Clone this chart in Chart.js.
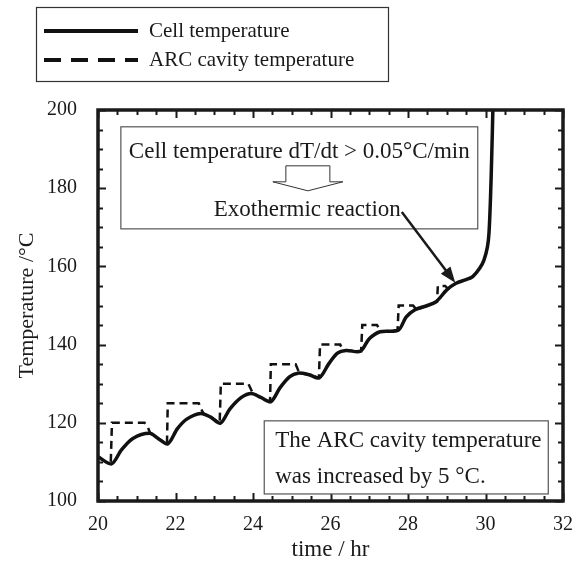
<!DOCTYPE html>
<html>
<head>
<meta charset="utf-8">
<script src="https://cdn.jsdelivr.net/npm/chart.js@4.4.1/dist/chart.umd.min.js"></script>
<style>
  body { margin: 0; background: #fff; }
  #wrap { width: 585px; height: 566px; }
</style>
</head>
<body>
<div id="wrap"><canvas id="arcChart" width="585" height="566"></canvas></div>
<script>
// cell temperature (solid)
const cellTime = [20.0, 20.35, 20.6, 20.9, 21.33, 21.55, 21.8, 22.05, 22.3, 22.65, 22.9, 23.16,
    23.4, 23.7, 23.96, 24.2, 24.46, 24.7, 24.95, 25.16, 25.45, 25.71, 25.95, 26.18, 26.4, 26.77,
    27.0, 27.28, 27.75, 27.95, 28.18, 28.5, 28.73, 29.0, 29.24, 29.5, 29.67, 29.85, 29.96, 30.05,
    30.09, 30.13, 30.16, 30.19, 30.21];
const cellTemp = [111.3, 109.5, 113.0, 116.0, 117.3, 116.0, 114.6, 118.5, 121.0, 122.4, 121.5, 119.9,
    123.5, 126.5, 127.5, 126.5, 125.4, 129.0, 131.8, 132.7, 132.3, 131.5, 135.0, 137.8, 138.5, 138.3,
    141.5, 143.3, 143.7, 147.0, 148.9, 150.0, 151.0, 154.0, 155.7, 156.6, 157.4, 159.5, 161.6, 165.0,
    168.5, 177.8, 188.0, 200.0, 212.0];

// ARC cavity temperature (dashed)
const arcTime = [20.33, 20.36, 21.2, 21.28, 21.35, 21.55, 21.78, 21.8, 22.6, 22.66, 22.72, 22.9, 23.14,
    23.17, 23.88, 23.95, 24.0, 24.2, 24.44, 24.46, 25.1, 25.15, 25.2, 25.45, 25.7, 25.73, 26.25, 26.3,
    26.4, 26.79, 26.82, 27.2, 27.26, 27.3, 27.73, 27.76, 28.13, 28.18, 28.22, 28.5, 28.75, 28.77, 28.96,
    29.02, 29.08];
const arcTemp = [110.0, 120.0, 120.0, 119.0, 117.3, 116.0, 114.6, 125.0, 125.0, 123.6, 122.4, 121.5, 119.9,
    130.0, 130.0, 128.5, 127.5, 126.5, 125.4, 135.0, 135.0, 133.8, 132.7, 132.3, 131.5, 140.0, 140.0, 139.0,
    138.5, 138.3, 145.0, 145.0, 144.0, 143.3, 143.7, 150.0, 150.0, 149.4, 148.9, 150.0, 151.0, 155.0, 155.0,
    154.4, 154.3];

const xTicks = [20, 22, 24, 26, 28, 30, 32];
const yTicks = [100, 120, 140, 160, 180, 200];

const seriesNames = ['Cell temperature', 'ARC cavity temperature'];

const serif = "'Liberation Serif', 'DejaVu Serif', serif";
const ink = '#1a1a1a';

function toPoints(xs, ys) {
    return xs.map((x, i) => ({ x: x, y: ys[i] }));
}

// frame, inward ticks, legend box and the two notes
const decorPlugin = {
    id: 'decor',
    afterDatasetsDraw(chart) {
        const ctx = chart.ctx;
        const area = chart.chartArea;
        const xs = chart.scales.x;
        const ys = chart.scales.y;
        ctx.save();

        // ticks
        ctx.strokeStyle = ink;
        ctx.lineWidth = 2;
        for (let v = xTicks[0]; v <= xTicks[xTicks.length - 1] + 1e-6; v += 0.5) {
            const px = Math.round(xs.getPixelForValue(v)) + 0.5;
            const len = (Math.abs(v % 2) < 1e-6) ? 8 : 5;
            ctx.beginPath();
            ctx.moveTo(px, area.bottom); ctx.lineTo(px, area.bottom - len);
            ctx.moveTo(px, area.top); ctx.lineTo(px, area.top + len);
            ctx.stroke();
        }
        for (let v = yTicks[0]; v <= yTicks[yTicks.length - 1] + 1e-6; v += 5) {
            const py = Math.round(ys.getPixelForValue(v)) + 0.5;
            const len = (Math.abs(v % 20) < 1e-6) ? 8 : 5;
            ctx.beginPath();
            ctx.moveTo(area.left, py); ctx.lineTo(area.left + len, py);
            ctx.moveTo(area.right, py); ctx.lineTo(area.right - len, py);
            ctx.stroke();
        }

        // frame
        ctx.lineWidth = 3.5;
        ctx.strokeRect(area.left, area.top, area.right - area.left, area.bottom - area.top);

        // note 1 : onset of exothermic reaction
        const b1 = { l: xs.getPixelForValue(20.59), r: xs.getPixelForValue(29.8),
                     t: ys.getPixelForValue(195.7), b: ys.getPixelForValue(169.6) };
        ctx.fillStyle = '#fff';
        ctx.fillRect(b1.l, b1.t, b1.r - b1.l, b1.b - b1.t);
        ctx.strokeStyle = '#555';
        ctx.lineWidth = 1.2;
        ctx.strokeRect(b1.l, b1.t, b1.r - b1.l, b1.b - b1.t);
        ctx.fillStyle = ink;
        ctx.font = '23px ' + serif;
        ctx.textAlign = 'center';
        ctx.textBaseline = 'middle';
        ctx.fillText('Cell temperature dT/dt > 0.05\u00B0C/min', (b1.l + b1.r) / 2, b1.t + 25);
        ctx.textAlign = 'right';
        ctx.fillText('Exothermic reaction', b1.l + 280, b1.t + 83);

        // hollow block arrow
        const cx = b1.l + 187;
        const ay = b1.t + 39;
        ctx.beginPath();
        ctx.moveTo(cx - 22, ay);
        ctx.lineTo(cx + 22, ay);
        ctx.lineTo(cx + 22, ay + 16);
        ctx.lineTo(cx + 35, ay + 16);
        ctx.lineTo(cx, ay + 25);
        ctx.lineTo(cx - 35, ay + 16);
        ctx.lineTo(cx - 22, ay + 16);
        ctx.closePath();
        ctx.strokeStyle = '#333';
        ctx.lineWidth = 1;
        ctx.stroke();

        // pointer arrow
        const sx = xs.getPixelForValue(27.84), sy = ys.getPixelForValue(173.9);
        const tx = xs.getPixelForValue(29.22), ty = ys.getPixelForValue(155.8);
        const ang = Math.atan2(ty - sy, tx - sx);
        ctx.strokeStyle = ink;
        ctx.fillStyle = ink;
        ctx.lineWidth = 2.5;
        ctx.beginPath();
        ctx.moveTo(sx, sy);
        ctx.lineTo(tx - 12 * Math.cos(ang), ty - 12 * Math.sin(ang));
        ctx.stroke();
        ctx.beginPath();
        ctx.moveTo(tx, ty);
        ctx.lineTo(tx - 16 * Math.cos(ang) + 6 * Math.sin(ang), ty - 16 * Math.sin(ang) - 6 * Math.cos(ang));
        ctx.lineTo(tx - 16 * Math.cos(ang) - 6 * Math.sin(ang), ty - 16 * Math.sin(ang) + 6 * Math.cos(ang));
        ctx.closePath();
        ctx.fill();

        // note 2 : step size
        const b2 = { l: xs.getPixelForValue(24.29), r: xs.getPixelForValue(31.62),
                     t: ys.getPixelForValue(120.5), b: ys.getPixelForValue(101.8) };
        ctx.fillStyle = '#fff';
        ctx.fillRect(b2.l, b2.t, b2.r - b2.l, b2.b - b2.t);
        ctx.strokeStyle = '#555';
        ctx.lineWidth = 1.2;
        ctx.strokeRect(b2.l, b2.t, b2.r - b2.l, b2.b - b2.t);
        ctx.fillStyle = ink;
        ctx.textAlign = 'left';
        ctx.fillText('The ARC cavity temperature', b2.l + 11, b2.t + 20);
        ctx.fillText('was increased by 5 \u00B0C.', b2.l + 11, b2.t + 56);

        // legend box (top left, outside the plot)
        ctx.strokeStyle = '#333';
        ctx.lineWidth = 1.2;
        ctx.strokeRect(36.5, 7.5, 352, 74);
        const ds = chart.data.datasets;
        [31, 60].forEach((ly, i) => {
            ctx.strokeStyle = ds[i].borderColor;
            ctx.lineWidth = 4;
            ctx.setLineDash(i === 1 ? [17, 10] : []);
            ctx.beginPath();
            ctx.moveTo(44, ly);
            ctx.lineTo(138, ly);
            ctx.stroke();
            ctx.setLineDash([]);
            ctx.fillStyle = ink;
            ctx.font = '21px ' + serif;
            ctx.textAlign = 'left';
            ctx.textBaseline = 'middle';
            ctx.fillText(seriesNames[i], 149, ly);
        });

        ctx.restore();
    }
};

const ctx = document.getElementById('arcChart').getContext('2d');
const arcChart = new Chart(ctx, {
    type: 'scatter',
    data: {
        datasets: [{
            label: seriesNames[0],
            data: toPoints(cellTime, cellTemp),
            showLine: true,
            borderColor: '#111',
            borderWidth: 3.5,
            pointRadius: 0,
            tension: 0.3,
            order: 1
        }, {
            label: seriesNames[1],
            data: toPoints(arcTime, arcTemp),
            showLine: true,
            borderColor: '#111',
            borderWidth: 2.5,
            borderDash: [8, 5],
            pointRadius: 0,
            tension: 0,
            order: 2
        }]
    },
    options: {
        responsive: false,
        animation: false,
        devicePixelRatio: 1,
        layout: { padding: { left: 0, right: 17, top: 110, bottom: 0 } },
        plugins: {
            legend: { display: false },
            tooltip: { enabled: false }
        },
        scales: {
            x: {
                type: 'linear',
                min: 20,
                max: 32,
                afterFit: function(scale) { scale.height = 65; },
                grid: { display: false, drawTicks: false },
                border: { display: false },
                ticks: {
                    stepSize: 2,
                    padding: 12,
                    color: ink,
                    font: { family: serif, size: 20 }
                },
                title: {
                    display: true,
                    text: 'time / hr',
                    color: ink,
                    font: { family: serif, size: 23 },
                    padding: { top: 0, bottom: 2 }
                }
            },
            y: {
                min: 100,
                max: 200,
                afterFit: function(scale) { scale.width = 98; },
                grid: { display: false, drawTicks: false },
                border: { display: false },
                ticks: {
                    stepSize: 20,
                    padding: 21,
                    color: ink,
                    font: { family: serif, size: 20 }
                },
                title: {
                    display: true,
                    text: 'Temperature /\u00B0C',
                    color: ink,
                    font: { family: serif, size: 22 },
                    padding: { top: 14, bottom: 0 }
                }
            }
        }
    },
    plugins: [decorPlugin]
});
</script>
</body>
</html>
